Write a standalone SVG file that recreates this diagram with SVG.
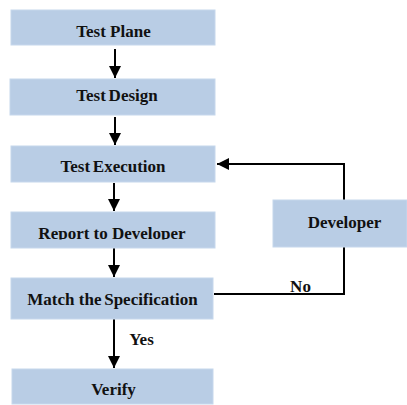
<svg xmlns="http://www.w3.org/2000/svg" width="407" height="405" viewBox="0 0 407 405">
<style>
.box{fill:#b9cde5;stroke:#c6d7ec;stroke-width:1}
.t{font-family:'Liberation Serif','DejaVu Serif',serif;font-weight:bold;font-size:17px;fill:#111}
.c{stroke:#000;stroke-width:2;fill:none}
</style>
<defs>
<marker id="ah" markerUnits="userSpaceOnUse" markerWidth="12" markerHeight="12" viewBox="0 0 12 12" refX="12" refY="6" orient="auto">
<path d="M0,0 L12,6 L0,12 Z" fill="#000"/>
</marker>
<clipPath id="clipR"><rect x="0" y="200" width="230" height="39.5"/></clipPath>
</defs>
<rect width="407" height="405" fill="#fff"/>
<g id="connectors">
<line class="c" x1="115" y1="49" x2="115" y2="78" marker-end="url(#ah)"/>
<line class="c" x1="115" y1="117" x2="115" y2="145" marker-end="url(#ah)"/>
<line class="c" x1="114" y1="183" x2="114" y2="211" marker-end="url(#ah)"/>
<line class="c" x1="114" y1="248" x2="114" y2="277" marker-end="url(#ah)"/>
<line class="c" x1="114" y1="319" x2="114" y2="368" marker-end="url(#ah)"/>
<polyline class="c" points="344,200 344,164 217,164" marker-end="url(#ah)"/>
<polyline class="c" points="344,247 344,294 214,294"/>
<text class="t" x="141.5" y="345" text-anchor="middle">Yes</text>
<text class="t" x="300.5" y="292" text-anchor="middle">No</text>
</g>
<g id="test-plane">
<rect class="box" x="11" y="10" width="204" height="35"/>
<text class="t" x="113.5" y="37" text-anchor="middle">Test Plane</text>
</g>
<g id="test-design">
<rect class="box" x="10" y="79" width="205" height="36"/>
<text class="t" x="117" y="101" text-anchor="middle" word-spacing="-1.5">Test Design</text>
</g>
<g id="test-execution">
<rect class="box" x="11" y="146" width="204" height="36"/>
<text class="t" x="113" y="172" text-anchor="middle" word-spacing="-1.5">Test Execution</text>
</g>
<g id="report-to-developer">
<rect class="box" x="11" y="212" width="204" height="36"/>
<text class="t" x="112" y="239" text-anchor="middle" clip-path="url(#clipR)">Report to Developer</text>
</g>
<g id="match-specification">
<rect class="box" x="11" y="278" width="202" height="41"/>
<text class="t" x="112.5" y="305" text-anchor="middle">Match the <tspan dx="-1.5">Specification</tspan></text>
</g>
<g id="verify">
<rect class="box" x="12" y="369" width="201" height="35"/>
<text class="t" x="113.5" y="395" text-anchor="middle">Verify</text>
</g>
<g id="developer">
<rect class="box" x="273" y="200" width="134" height="47"/>
<text class="t" x="344.5" y="228" text-anchor="middle">Developer</text>
</g>
</svg>
